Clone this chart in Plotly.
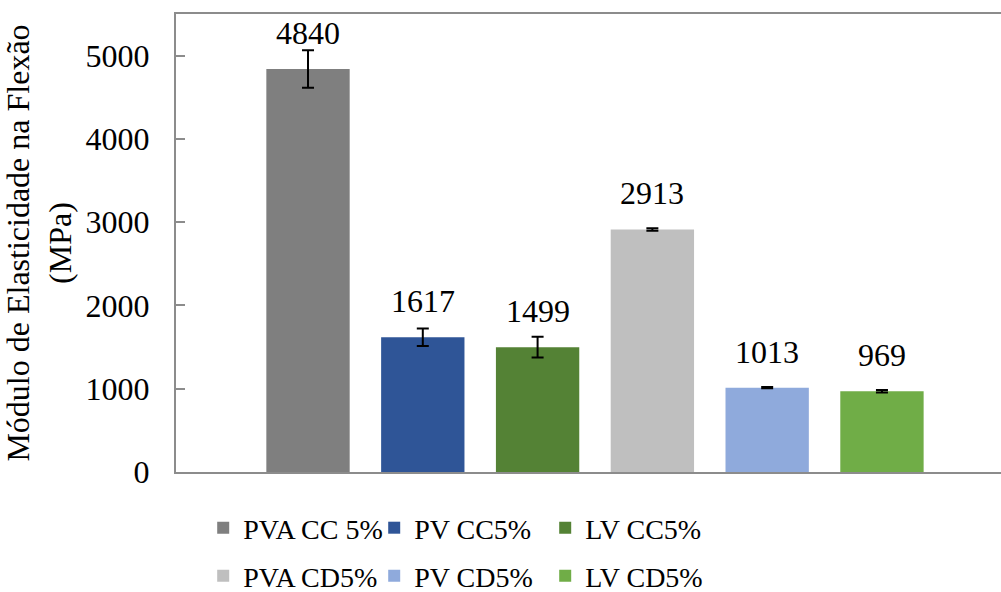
import plotly.graph_objects as go

# Flexural modulus per formulation
series = ["PVA CC 5%", "PV CC5%", "LV CC5%", "PVA CD5%", "PV CD5%", "LV CD5%"]
modulus = [4840, 1617, 1499, 2913, 1013, 969]
std_dev = [225, 105, 124, 15, 8, 15]
colors = ["#7f7f7f", "#2f5597", "#548235", "#bfbfbf", "#8faadc", "#70ad47"]
y_ticks = [0, 1000, 2000, 3000, 4000, 5000]

FONT = "Liberation Serif, Times New Roman, serif"
AXIS_GRAY = "#8c8c8c"

fig = go.Figure()
for i, (name, val, err, col) in enumerate(zip(series, modulus, std_dev, colors)):
    fig.add_trace(go.Bar(
        x=[name], y=[val], name=name,
        marker=dict(color=col, line=dict(width=0)),
        error_y=dict(type="data", array=[err], visible=True,
                     color="black", thickness=2, width=6),
        legend="legend" if i < 3 else "legend2",
    ))
    fig.add_annotation(
        x=name, y=val, text=str(val), showarrow=False,
        yanchor="bottom", yshift=16,
        font=dict(family=FONT, size=32, color="black"),
    )

legend_style = dict(
    orientation="h", xref="container", yref="container",
    x=0.203, xanchor="left", yanchor="middle",
    entrywidth=126, font=dict(family=FONT, size=28, color="black"),
    bgcolor="rgba(0,0,0,0)",
)

fig.update_layout(
    width=1001, height=592,
    margin=dict(l=176, r=0, t=14, b=120),
    paper_bgcolor="white", plot_bgcolor="white",
    barmode="overlay", bargap=0.274,
    font=dict(family=FONT, size=32, color="black"),
    xaxis=dict(
        type="category", range=[-1.15, 6.037],
        showticklabels=False, ticks="", showgrid=False, zeroline=False,
        showline=True, linecolor=AXIS_GRAY, linewidth=2, mirror=True,
    ),
    yaxis=dict(
        range=[0, 5500], tickvals=y_ticks, showgrid=False, zeroline=False,
        showline=True, linecolor=AXIS_GRAY, linewidth=2,
        ticks="inside", ticklen=9, tickwidth=2, tickcolor=AXIS_GRAY,
        ticklabelstandoff=18,
        tickfont=dict(family=FONT, size=32, color="black"),
        title=dict(text="Módulo de Elasticidade na Flexão<br>(MPa)",
                   font=dict(family=FONT, size=32, color="black"), standoff=15),
    ),
    legend=dict(legend_style, y=1 - 528 / 592),
    legend2=dict(legend_style, y=1 - 576 / 592),
)

fig.write_html("out.html")
